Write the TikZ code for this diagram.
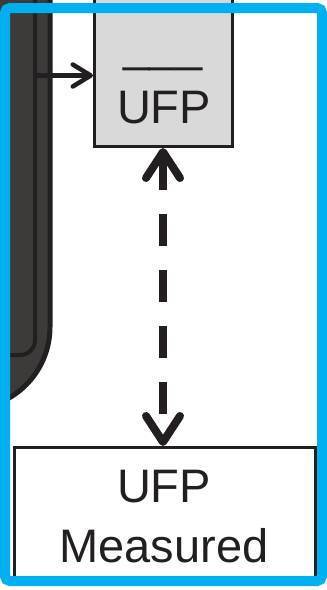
\documentclass[tikz,border=0pt]{standalone}
\usepackage{fontspec}
\setmainfont{Liberation Sans}
\usetikzlibrary{arrows.meta}
\definecolor{frameblue}{HTML}{00B0F0}
\definecolor{boxgray}{HTML}{D9D9D9}
\definecolor{darkfill}{HTML}{3D3B39}
\definecolor{inkblack}{HTML}{231F20}
\tikzset{
  box/.style={draw=inkblack, line width=3pt, inner sep=0pt, anchor=north west},
  lbl/.style={anchor=base, inner sep=0pt, text=inkblack, font=\fontsize{47}{56}\selectfont},
  smallarrow/.style={draw=inkblack, line width=4.5pt, -{Straight Barb[length=18pt, width=22pt, line width=4.5pt, round]}},
  bigarrow/.style={draw=inkblack, line width=8pt, dash pattern=on 32pt off 24pt, dash phase=54pt,
    {Straight Barb[length=26pt, width=34pt, line width=8pt, round]}-{Straight Barb[length=26pt, width=34pt, line width=8pt, round]}},
}
\begin{document}
\begin{tikzpicture}[x=1pt, y=-1pt]
\useasboundingbox (0,0) rectangle (327,590);
\begin{scope}
\clip (0,0) rectangle (327,590);
% dark rounded shape on the left
\filldraw[fill=darkfill, draw=inkblack, line width=5pt]
  (-80,-10) -- (50,-10) -- (50,327) arc[start angle=0, end angle=80, radius=82] -- (-80,420) -- cycle;
\draw[draw=inkblack, line width=4pt, fill=darkfill]
  (-40,-10) -- (35,-10) -- (35,340) arc[start angle=0, end angle=90, radius=15] -- (-40,355);
% gray UFP box
\node[box, fill=boxgray, minimum width=138pt, minimum height=170pt] (ufp) at (93,-25) {};
\node[lbl] (ufpbar) at (163,61) {\_\_\_};
\node[lbl] (ufptxt) at (164,123) {UFP};
% measured box
\node[box, fill=white, minimum width=301pt, minimum height=134pt] (meas) at (13,446) {};
\node[lbl] (meastxt1) at (164,502) {UFP};
\node[lbl] (meastxt2) at (164,562) {Measured};
% arrows
\coordinate (src) at (35,75.5);
\draw[smallarrow] (src) -- (src -| ufp.west);
\draw[bigarrow] (163,0 |- ufp.south) -- (163,0 |- meas.north);
\end{scope}
% blue frame
\draw[frameblue, line width=10pt, rounded corners=5pt] (5,8) rectangle (322,581);
\end{tikzpicture}
\end{document}
